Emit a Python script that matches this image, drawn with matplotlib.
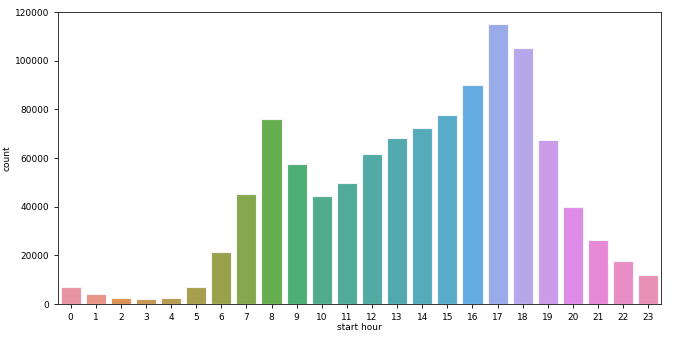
import matplotlib
matplotlib.use("Agg")
import matplotlib.pyplot as plt
import seaborn as sns

# counts per start hour
hours = list(range(24))
counts = [7100, 4100, 2300, 1900, 2300, 6800, 21500, 45200, 76200, 57700, 44400, 49900,
          61600, 68100, 72500, 77500, 90100, 114900, 105200, 67300, 39900, 26300, 17800, 11800]
tick_labels = [str(h) for h in hours]

# husl palette, desaturated (countplot style), slightly lighter like the original
colors = []
for c in sns.husl_palette(len(hours), l=0.68):
    c = sns.desaturate(c, 0.75)
    colors.append(tuple(0.95 * v + 0.05 for v in c))

fig = plt.figure(figsize=(6.73, 3.39), dpi=100)
ax = fig.add_axes([0.0862, 0.1032, 0.8958, 0.8614])
ax.bar(hours, counts, width=0.8, color=colors, edgecolor="#f4f4f8", linewidth=0.8)

ax.set_xlim(-0.5, 23.5)
ax.set_ylim(0, 120000)
ax.set_xticks(hours)
ax.set_xticklabels(tick_labels)
ax.set_yticks(range(0, 120001, 20000))
ax.tick_params(labelsize=6.5, length=3, width=0.6)
ax.set_xlabel("start hour", fontsize=6.5, labelpad=0.8)
ax.set_ylabel("count", fontsize=6.5, labelpad=1.8)
for s in ax.spines.values():
    s.set_linewidth(0.7)
    s.set_color("#333333")

fig.savefig("out.png", dpi=100)
